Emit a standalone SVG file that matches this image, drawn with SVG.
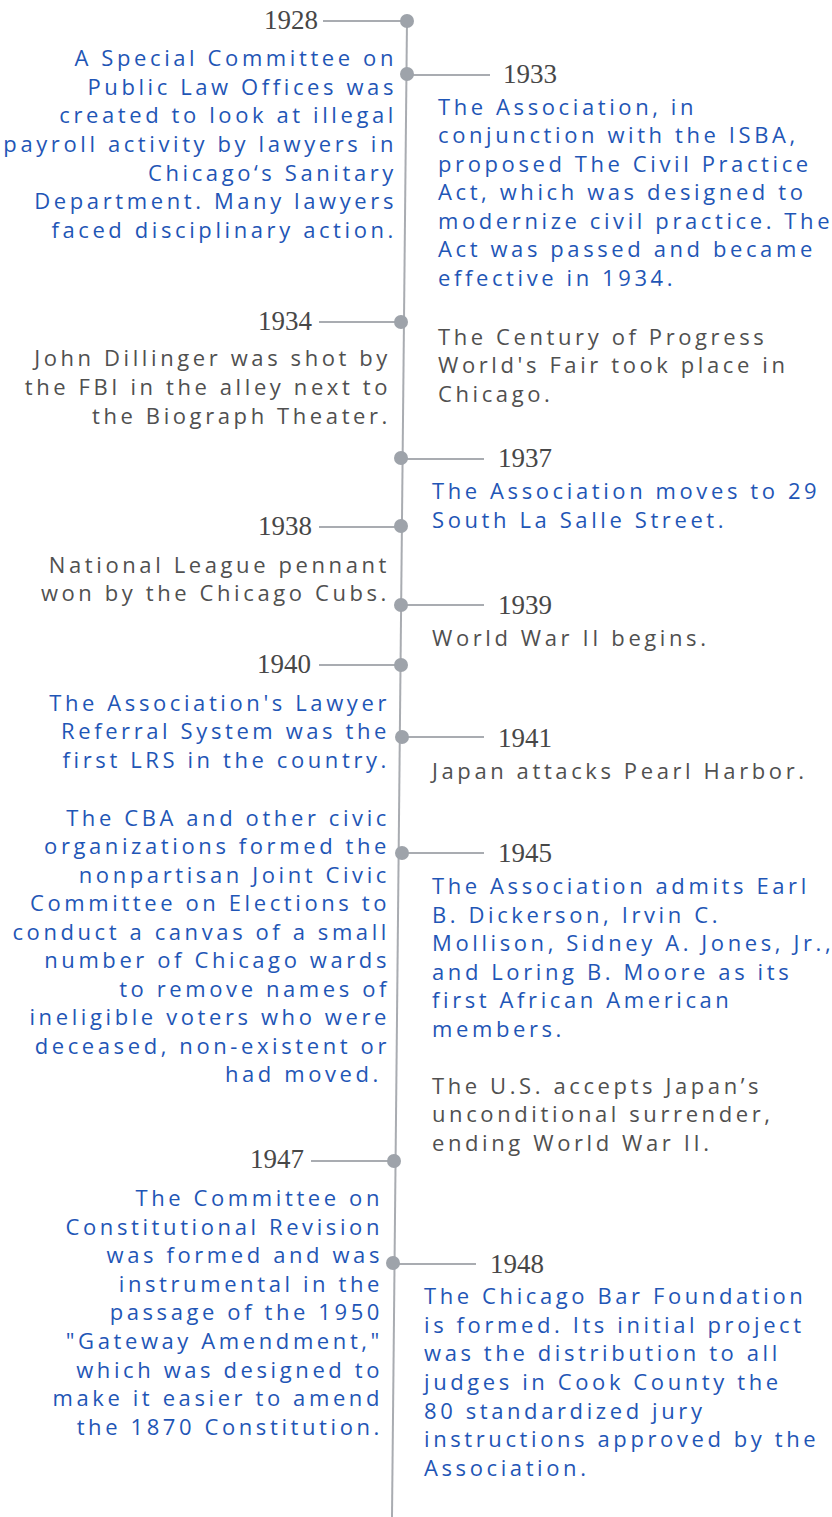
<svg xmlns="http://www.w3.org/2000/svg" width="832" height="1517" viewBox="0 0 832 1517">
<style>
.yr{font-family:"Liberation Serif",serif;font-size:27px;fill:#474747}
.b{font-family:"Open Sans","Liberation Sans",sans-serif;font-size:22px;fill:#1f56b6;letter-spacing:3.6px}
.g{font-family:"Open Sans","Liberation Sans",sans-serif;font-size:22px;fill:#505050;letter-spacing:3.6px}
.e{text-anchor:end}
.ln{stroke:#a9acb1;stroke-width:2;fill:none}
.dot{fill:#9ea3aa}
</style>
<rect width="832" height="1517" fill="#ffffff"/>
<g id="connectors">
<line class="ln" x1="407" y1="20" x2="392" y2="1517"/>
<line class="ln" x1="323" y1="21" x2="407" y2="21"/>
<line class="ln" x1="407" y1="75" x2="490" y2="75"/>
<line class="ln" x1="319" y1="322" x2="401" y2="322"/>
<line class="ln" x1="401" y1="459" x2="484" y2="459"/>
<line class="ln" x1="319" y1="527" x2="401" y2="527"/>
<line class="ln" x1="401" y1="605" x2="484" y2="605"/>
<line class="ln" x1="319" y1="665" x2="401" y2="665"/>
<line class="ln" x1="401" y1="737" x2="484" y2="737"/>
<line class="ln" x1="401" y1="853" x2="484" y2="853"/>
<line class="ln" x1="311" y1="1161" x2="394" y2="1161"/>
<line class="ln" x1="394" y1="1264" x2="476" y2="1264"/>
</g>
<g id="n1928">
<circle class="dot" cx="407" cy="21" r="7"/>
<text class="yr e" x="318" y="29">1928</text>
<text class="b e" x="397"><tspan x="397" y="66">A Special Committee on</tspan><tspan x="397" y="95">Public Law Offices was</tspan><tspan x="397" y="123">created to look at illegal</tspan><tspan x="397" y="152">payroll activity by lawyers in</tspan><tspan x="397" y="181">Chicago‘s Sanitary</tspan><tspan x="397" y="209">Department. Many lawyers</tspan><tspan x="397" y="238">faced disciplinary action.</tspan></text>
</g>
<g id="n1933">
<circle class="dot" cx="407" cy="74" r="7"/>
<text class="yr" x="503" y="83">1933</text>
<text class="b" x="438"><tspan x="438" y="115">The Association, in</tspan><tspan x="438" y="143">conjunction with the ISBA,</tspan><tspan x="438" y="172">proposed The Civil Practice</tspan><tspan x="438" y="200">Act, which was designed to</tspan><tspan x="438" y="229">modernize civil practice. The</tspan><tspan x="438" y="257">Act was passed and became</tspan><tspan x="438" y="286">effective in 1934.</tspan></text>
</g>
<g id="n1934">
<circle class="dot" cx="401" cy="322" r="7"/>
<text class="yr e" x="312" y="330">1934</text>
<text class="g e" x="391"><tspan x="391" y="366">John Dillinger was shot by</tspan><tspan x="391" y="395">the FBI in the alley next to</tspan><tspan x="391" y="424">the Biograph Theater.</tspan></text>
<text class="g" x="438"><tspan x="438" y="345">The Century of Progress</tspan><tspan x="438" y="373">World's Fair took place in</tspan><tspan x="438" y="402">Chicago.</tspan></text>
</g>
<g id="n1937">
<circle class="dot" cx="401" cy="458" r="7"/>
<text class="yr" x="498" y="467">1937</text>
<text class="b" x="432"><tspan x="432" y="499">The Association moves to 29</tspan><tspan x="432" y="528">South La Salle Street.</tspan></text>
</g>
<g id="n1938">
<circle class="dot" cx="401" cy="526" r="7"/>
<text class="yr e" x="312" y="535">1938</text>
<text class="g e" x="390"><tspan x="390" y="573">National League pennant</tspan><tspan x="390" y="601">won by the Chicago Cubs.</tspan></text>
</g>
<g id="n1939">
<circle class="dot" cx="401" cy="605" r="7"/>
<text class="yr" x="498" y="614">1939</text>
<text class="g" x="432" y="646">World War II begins.</text>
</g>
<g id="n1940">
<circle class="dot" cx="401" cy="665" r="7"/>
<text class="yr e" x="311" y="673">1940</text>
<text class="b e" x="390"><tspan x="390" y="711">The Association's Lawyer</tspan><tspan x="390" y="739">Referral System was the</tspan><tspan x="390" y="768">first LRS in the country.</tspan></text>
</g>
<g id="n1941">
<circle class="dot" cx="402" cy="737" r="7"/>
<text class="yr" x="498" y="747">1941</text>
<text class="g" x="432" y="779">Japan attacks Pearl Harbor.</text>
</g>
<g id="nCBA">
<text class="b e" x="390"><tspan x="390" y="826">The CBA and other civic</tspan><tspan x="390" y="854">organizations formed the</tspan><tspan x="390" y="883">nonpartisan Joint Civic</tspan><tspan x="390" y="911">Committee on Elections to</tspan><tspan x="390" y="940">conduct a canvas of a small</tspan><tspan x="390" y="968">number of Chicago wards</tspan><tspan x="390" y="997">to remove names of</tspan><tspan x="390" y="1025">ineligible voters who were</tspan><tspan x="390" y="1054">deceased, non-existent or</tspan><tspan x="382" y="1082">had moved.</tspan></text>
</g>
<g id="n1945">
<circle class="dot" cx="402" cy="853" r="7"/>
<text class="yr" x="498" y="862">1945</text>
<text class="b" x="432"><tspan x="432" y="894">The Association admits Earl</tspan><tspan x="432" y="923">B. Dickerson, Irvin C.</tspan><tspan x="432" y="951">Mollison, Sidney A. Jones, Jr.,</tspan><tspan x="432" y="980">and Loring B. Moore as its</tspan><tspan x="432" y="1008">first African American</tspan><tspan x="432" y="1037">members.</tspan></text>
<text class="g" x="432"><tspan x="432" y="1094">The U.S. accepts Japan’s</tspan><tspan x="432" y="1122">unconditional surrender,</tspan><tspan x="432" y="1151">ending World War II.</tspan></text>
</g>
<g id="n1947">
<circle class="dot" cx="394" cy="1161" r="7"/>
<text class="yr e" x="304" y="1168">1947</text>
<text class="b e" x="383"><tspan x="383" y="1206">The Committee on</tspan><tspan x="383" y="1235">Constitutional Revision</tspan><tspan x="383" y="1263">was formed and was</tspan><tspan x="383" y="1292">instrumental in the</tspan><tspan x="383" y="1320">passage of the 1950</tspan><tspan x="383" y="1349">"Gateway Amendment,"</tspan><tspan x="383" y="1378">which was designed to</tspan><tspan x="383" y="1406">make it easier to amend</tspan><tspan x="383" y="1435">the 1870 Constitution.</tspan></text>
</g>
<g id="n1948">
<circle class="dot" cx="393" cy="1263" r="7"/>
<text class="yr" x="490" y="1273">1948</text>
<text class="b" x="424"><tspan x="424" y="1304">The Chicago Bar Foundation</tspan><tspan x="424" y="1333">is formed. Its initial project</tspan><tspan x="424" y="1361">was the distribution to all</tspan><tspan x="424" y="1390">judges in Cook County the</tspan><tspan x="424" y="1419">80 standardized jury</tspan><tspan x="424" y="1447">instructions approved by the</tspan><tspan x="424" y="1476">Association.</tspan></text>
</g>
</svg>
